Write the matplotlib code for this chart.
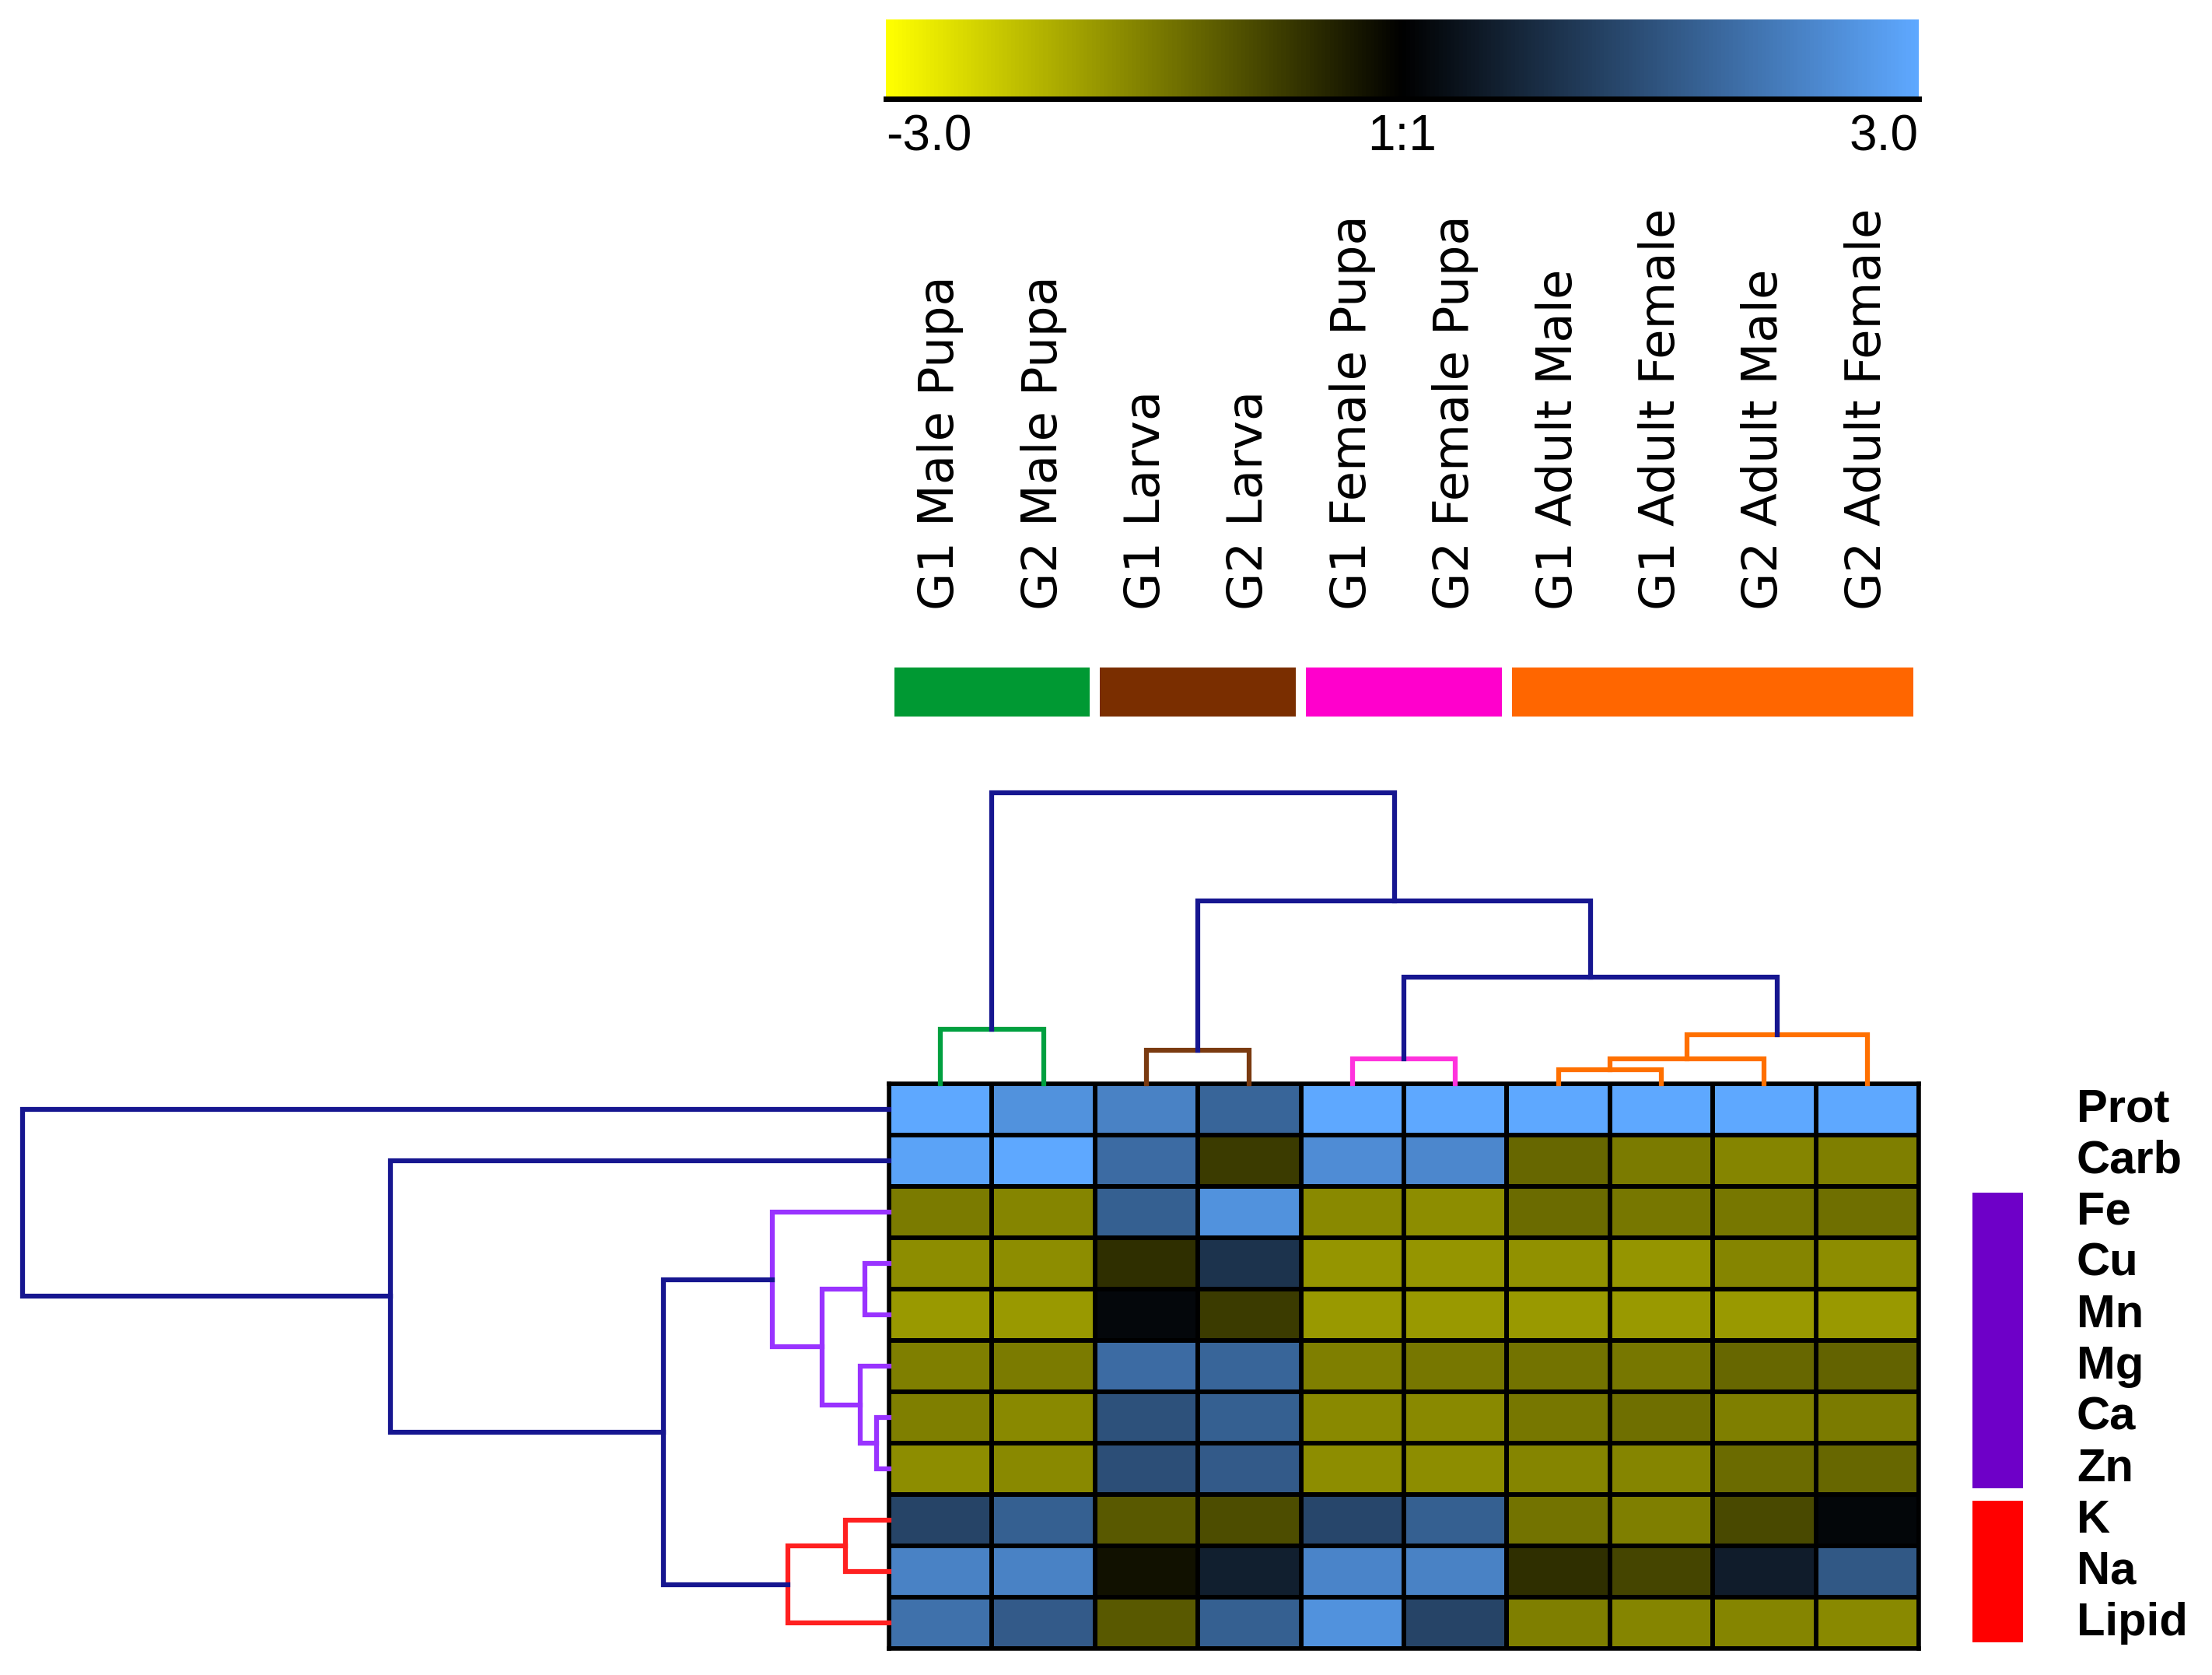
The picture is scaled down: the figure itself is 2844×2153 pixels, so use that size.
import matplotlib.pyplot as plt
import numpy as np
from matplotlib.colors import LinearSegmentedColormap, Normalize
from matplotlib.cm import ScalarMappable
from matplotlib.transforms import blended_transform_factory

# columns (samples) and rows (measures), in display order
samples = ['G1 Male Pupa', 'G2 Male Pupa', 'G1 Larva', 'G2 Larva',
           'G1 Female Pupa', 'G2 Female Pupa', 'G1 Adult Male',
           'G1 Adult Female', 'G2 Adult Male', 'G2 Adult Female']
measures = ['Prot', 'Carb', 'Fe', 'Cu', 'Mn', 'Mg', 'Ca', 'Zn', 'K', 'Na', 'Lipid']

# log ratio values (-3 yellow, 0 black, 3 blue)
prot  = [3.0, 2.6, 2.3, 1.8, 3.0, 3.0, 3.0, 3.0, 3.0, 3.0]
carb  = [2.9, 3.0, 1.9, -0.7, 2.5, 2.4, -1.2, -1.45, -1.55, -1.5]
fe    = [-1.45, -1.55, 1.7, 2.6, -1.6, -1.65, -1.25, -1.4, -1.4, -1.3]
cu    = [-1.65, -1.65, -0.55, 0.9, -1.75, -1.75, -1.7, -1.75, -1.55, -1.65]
mn    = [-1.8, -1.8, 0.12, -0.7, -1.8, -1.8, -1.8, -1.8, -1.8, -1.8]
mg    = [-1.5, -1.45, 1.9, 1.8, -1.5, -1.4, -1.35, -1.4, -1.2, -1.15]
ca    = [-1.5, -1.6, 1.45, 1.7, -1.6, -1.6, -1.4, -1.3, -1.5, -1.45]
zn    = [-1.65, -1.6, 1.4, 1.6, -1.65, -1.65, -1.55, -1.55, -1.25, -1.2]
k     = [1.2, 1.7, -1.05, -0.9, 1.25, 1.7, -1.35, -1.5, -0.85, 0.1]
na    = [2.3, 2.3, -0.2, 0.55, 2.35, 2.3, -0.55, -0.8, 0.5, 1.55]
lipid = [2.0, 1.6, -1.05, 1.7, 2.6, 1.2, -1.5, -1.55, -1.55, -1.6]

# sample groups (column colour bar)
sample_group = [0, 0, 1, 1, 2, 2, 3, 3, 3, 3]
sample_group_colors = ['#009933', '#7a2e00', '#ff00cc', '#ff6600']

# measure groups (row colour bar), -1 = no group
measure_group = [-1, -1, 0, 0, 0, 0, 0, 0, 1, 1, 1]
measure_group_colors = ['#6e00c8', '#ff0000']

# dendrograms: (node a, node b, height); leaves are 0..n-1, new nodes follow
col_merges = [(6, 7, 0.55), (10, 8, 0.95), (11, 9, 1.9), (0, 1, 2.1),
              (2, 3, 1.3), (4, 5, 0.95), (15, 12, 4.1), (14, 16, 7.05),
              (13, 17, 11.2)]
col_merge_colors = ['#ff7000', '#ff7000', '#ff7000', '#00a040', '#7a3a10',
                    '#ff33dd', '#161690', '#161690', '#161690']

row_merges = [(3, 4, 0.42), (6, 7, 0.22), (5, 12, 0.50), (11, 13, 1.15),
              (2, 14, 2.02), (8, 9, 0.75), (16, 10, 1.75), (15, 17, 3.9),
              (1, 18, 8.62), (0, 19, 14.98)]
row_merge_colors = ['#9933ff'] * 5 + ['#ff2020'] * 2 + ['#161690'] * 3

data = np.array([prot, carb, fe, cu, mn, mg, ca, zn, k, na, lipid])

cmap = LinearSegmentedColormap.from_list('yb', [(0, '#ffff00'), (0.5, '#000000'), (1, '#5ea8ff')])
norm = Normalize(-3, 3)

W, H = 2844, 2153
fig = plt.figure(figsize=(W / 100, H / 100), dpi=100)


def box(x0, y0, x1, y1):
    # pixel box (top-left origin) -> figure fraction
    return [x0 / W, 1 - y1 / H, (x1 - x0) / W, (y1 - y0) / H]


def draw_dendro(ax, n, merges, colors, top=True):
    pos = list(np.arange(n) + 0.5)
    hgt = [0.0] * n
    for (a, b, h), c in zip(merges, colors):
        xs = [pos[a], pos[a], pos[b], pos[b]]
        ys = [hgt[a], h, h, hgt[b]]
        if top:
            ax.plot(xs, ys, color=c, lw=4.5, clip_on=False, solid_joinstyle='miter')
        else:
            ax.plot(ys, xs, color=c, lw=4.5, clip_on=False, solid_joinstyle='miter')
        pos.append((pos[a] + pos[b]) / 2)
        hgt.append(h)


nrow, ncol = data.shape

# heatmap
ax = fig.add_axes(box(1143, 1393, 2467, 2119))
ax.pcolormesh(data, cmap=cmap, norm=norm, edgecolors='black', linewidth=4)
ax.set_xlim(0, ncol)
ax.set_ylim(nrow, 0)
ax.set_xticks([])
ax.set_yticks([])
for s in ax.spines.values():
    s.set_linewidth(4)

# column dendrogram
axc = fig.add_axes(box(1143, 1019, 2467, 1393))
draw_dendro(axc, ncol, col_merges, col_merge_colors, top=True)
axc.set_xlim(0, ncol)
axc.set_ylim(0, 11.2)
axc.axis('off')

# row dendrogram
axr = fig.add_axes(box(29, 1393, 1143, 2119))
draw_dendro(axr, nrow, row_merges, row_merge_colors, top=False)
axr.set_ylim(nrow, 0)
axr.set_xlim(14.98, 0)
axr.axis('off')

# column group bar
axg = fig.add_axes(box(1143, 858, 2467, 921))
for g, c in enumerate(sample_group_colors):
    idx = [j for j, sg in enumerate(sample_group) if sg == g]
    axg.bar(min(idx) + 0.05, 1, width=max(idx) + 1 - min(idx) - 0.1, align='edge', color=c)
axg.set_xlim(0, ncol)
axg.set_ylim(0, 1)
axg.axis('off')

# column labels
tr = blended_transform_factory(axg.transData, fig.transFigure)
for j, name in enumerate(samples):
    axg.text(j + 0.5, 1 - 784 / H, name, transform=tr, rotation=90,
             ha='center', va='bottom', fontsize=45, family='DejaVu Sans')

# row group bar
axrg = fig.add_axes(box(2536, 1393, 2601, 2119))
for g, c in enumerate(measure_group_colors):
    idx = [i for i, mg_ in enumerate(measure_group) if mg_ == g]
    axrg.barh(min(idx) + 0.12, 1, height=max(idx) + 1 - min(idx) - 0.24, align='edge', color=c)
axrg.set_ylim(nrow, 0)
axrg.set_xlim(0, 1)
axrg.axis('off')

# row labels
tr2 = blended_transform_factory(fig.transFigure, ax.transData)
for i, name in enumerate(measures):
    ax.text(2670 / W, i + 0.5, name, transform=tr2, ha='left', va='center',
            fontsize=43, fontweight='bold', family='Liberation Sans')

# colour scale
axcb = fig.add_axes(box(1139, 25, 2467, 127))
cb = fig.colorbar(ScalarMappable(norm=norm, cmap=cmap), cax=axcb,
                  orientation='horizontal', ticks=[-3, 0, 3])
cb.outline.set_visible(False)
cb.set_ticklabels(['-3.0', '1:1', '3.0'])
axcb.tick_params(length=0, pad=14, labelsize=46)
for t in axcb.get_xticklabels():
    t.set_family('Liberation Sans')
labels = axcb.get_xticklabels()
labels[0].set_ha('left')
labels[-1].set_ha('right')
axcb.plot([0, 1], [0, 0], transform=axcb.transAxes, color='black', lw=5, clip_on=False)

fig.savefig('out.png', dpi=100, facecolor='white')
